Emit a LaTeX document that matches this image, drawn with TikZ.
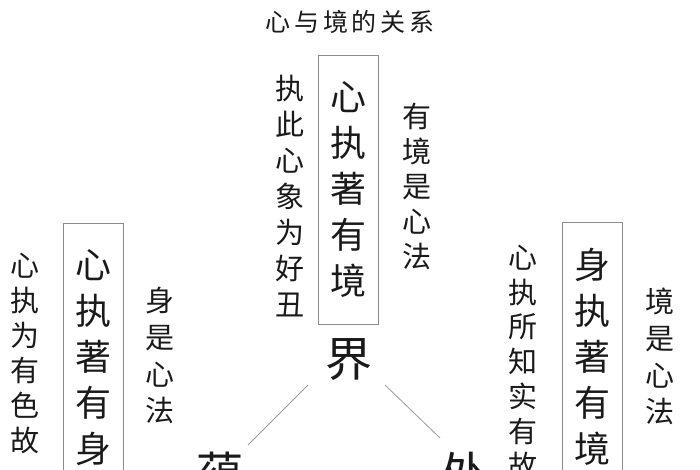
\documentclass[tikz,border=0pt]{standalone}
\usepackage{fontspec}
\setmainfont{Noto Sans CJK SC}
\definecolor{ink}{HTML}{1A1A1A}
\definecolor{boxc}{HTML}{8C8C8C}
\definecolor{linec}{HTML}{9A9A9A}
\tikzset{
  vt/.style={inner sep=0pt, align=center, text=ink, anchor=north},
  bigbox/.style={align=center, text=ink, font=\fontsize{36}{46}\selectfont,
    draw=boxc, line width=0.8pt, minimum width=60pt, minimum height=269pt,
    inner sep=0pt, anchor=north},
  big/.style={text=ink, font=\fontsize{47}{47}\selectfont, inner sep=0pt},
  link/.style={draw=linec, line width=0.8pt}
}
\begin{document}
\begin{tikzpicture}[x=1pt,y=-1pt]
\useasboundingbox (0,0) rectangle (700,470);
\fill[white] (0,0) rectangle (700,470);
\clip (0,0) rectangle (700,470);
% title
\node[text=ink, inner sep=0pt, font=\fontsize{25}{25}\selectfont\addfontfeature{LetterSpace=15}] (title) at (350,22) {心与境的关系};
% top group
\node[bigbox] (topbox) at (348,55) {心\\执\\著\\有\\境};
\node[vt, font=\fontsize{29}{36}\selectfont] (tl) at (290,75) {执\\此\\心\\象\\为\\好\\丑};
\node[vt, font=\fontsize{29}{35}\selectfont] (tr) at (417,103) {有\\境\\是\\心\\法};
% left group
\node[bigbox] (leftbox) at (93,223) {心\\执\\著\\有\\身};
\node[vt, font=\fontsize{29}{35}\selectfont] (ll) at (25,253) {心\\执\\为\\有\\色\\故};
\node[vt, font=\fontsize{29}{36.7}\selectfont] (lr) at (160,287) {身\\是\\心\\法};
% right group
\node[bigbox] (rightbox) at (592.5,222) {身\\执\\著\\有\\境};
\node[vt, font=\fontsize{29}{34.7}\selectfont] (rl) at (523,245) {心\\执\\所\\知\\实\\有\\故};
\node[vt, font=\fontsize{29}{36.7}\selectfont] (rr) at (660,288) {境\\是\\心\\法};
% triad
\node[big] (jie) at (349,360) {界};
\node[big] (yun) at (220,473) {蕴};
\node[big] (chu) at (464,474) {处};
\draw[link] ([shift={(-41,25)}]jie.center) -- ([shift={(28,-28)}]yun.center);
\draw[link] ([shift={(36,25)}]jie.center) -- ([shift={(-24,-36)}]chu.center);
\end{tikzpicture}
\end{document}
